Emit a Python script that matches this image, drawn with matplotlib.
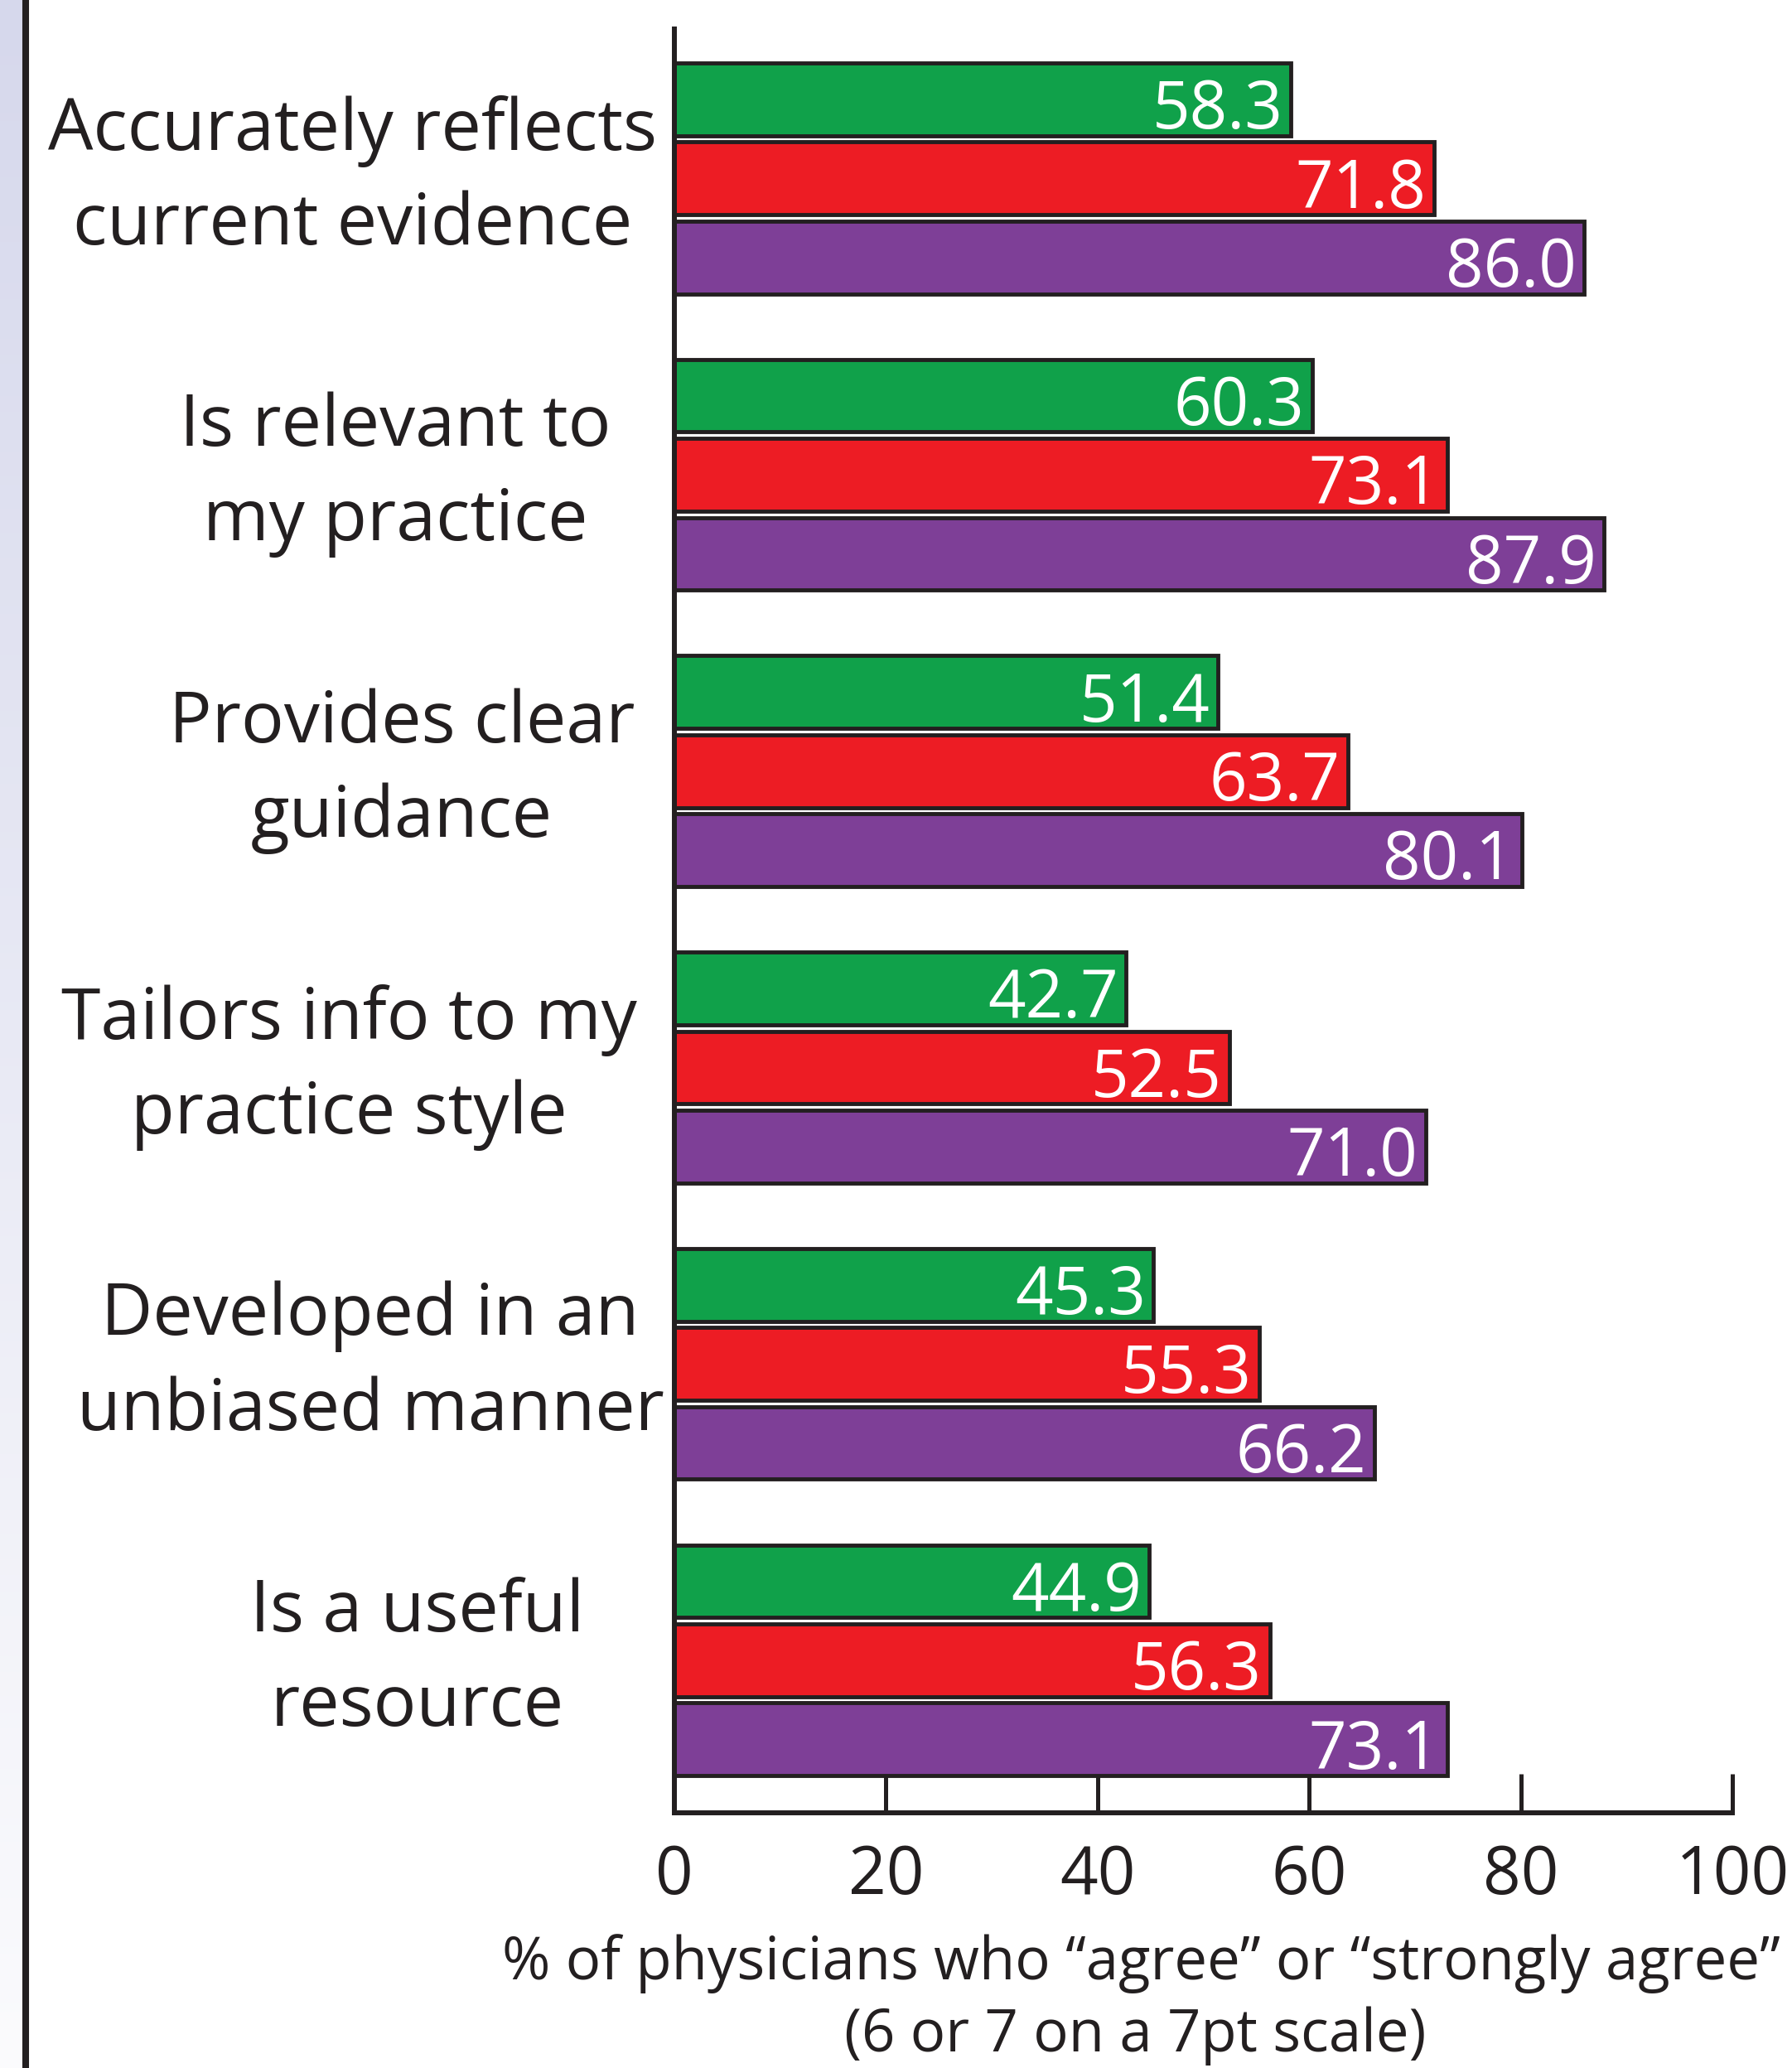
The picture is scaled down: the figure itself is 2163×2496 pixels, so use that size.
import numpy as np
import matplotlib
matplotlib.use("Agg")
import matplotlib.pyplot as plt
import matplotlib.transforms as mtransforms
from matplotlib.lines import Line2D

# data
categories = [
    "Accurately reflects\ncurrent evidence",
    "Is relevant to\nmy practice",
    "Provides clear\nguidance",
    "Tailors info to my\npractice style",
    "Developed in an\nunbiased manner",
    "Is a useful\nresource",
]
green_vals = [58.3, 60.3, 51.4, 42.7, 45.3, 44.9]
red_vals = [71.8, 73.1, 63.7, 52.5, 55.3, 56.3]
purple_vals = [86.0, 87.9, 80.1, 71.0, 66.2, 73.1]
xticks = [0, 20, 40, 60, 80, 100]
xlabel_lines = ["% of physicians who \u201cagree\u201d or \u201cstrongly agree\u201d",
                "(6 or 7 on a 7pt scale)"]

GREEN = "#10A14A"
RED = "#ED1C24"
PURPLE = "#7E3F97"
EDGE = "#231F20"
FONT = ["Open Sans", "DejaVu Sans"]

W, H = 2163, 2496
fig = plt.figure(figsize=(W / 100, H / 100), dpi=100)
fig.patch.set_facecolor("white")

# lavender strip + black rule on the left
strip = fig.add_axes([0, 0, 27 / W, 1])
grad = np.linspace(0, 1, 256).reshape(-1, 1)
c_top = np.array([0xD6, 0xD8, 0xEC]) / 255.0
c_bot = np.array([0xFB, 0xFB, 0xFD]) / 255.0
img = c_top[None, None, :] * (1 - grad[:, :, None]) + c_bot[None, None, :] * grad[:, :, None]
strip.imshow(img, aspect="auto", extent=[0, 1, 1, 0])
strip.axis("off")
fig.add_artist(Line2D([31 / W, 31 / W], [0, 1], transform=fig.transFigure,
                      color=EDGE, linewidth=5.8))

renderer = fig.canvas.get_renderer()


def fit_size(s, target_px):
    t = fig.text(0, 0, s, fontsize=100, family=FONT)
    w = t.get_window_extent(renderer).width
    t.remove()
    return 100.0 * target_px / w


cat_size = fit_size("Accurately reflects", 735)
tick_size = fit_size("100", 127) * 1.08
val_size = fit_size("86.0", 146) * 1.08
xl_size = fit_size(xlabel_lines[0], 1545)

ax = fig.add_axes([814 / W, 1 - 2188 / H, (2091 - 814) / W, (2188 - 35) / H])

pitch = 3.75
n = len(categories)
group_y = np.arange(n) * pitch
bar_h = 0.92

for k, (vals, col) in enumerate([(green_vals, GREEN), (red_vals, RED), (purple_vals, PURPLE)]):
    ys = group_y + k
    ax.barh(ys, vals, height=bar_h, color=col, edgecolor=EDGE, linewidth=3.5, zorder=2)
    for y, v in zip(ys, vals):
        ax.annotate("%.1f" % v, xy=(v, y + 0.37), xytext=(-7, 0), textcoords="offset points",
                    ha="right", va="baseline", color="white", fontsize=val_size,
                    family=FONT, zorder=3)

ax.set_xlim(0, 100)
ax.set_ylim(21.68, -0.89)
ax.spines["top"].set_visible(False)
ax.spines["right"].set_visible(False)
for sp in ["left", "bottom"]:
    ax.spines[sp].set_linewidth(4.3)
    ax.spines[sp].set_color(EDGE)
ax.set_yticks([])
ax.set_xticks(xticks)
ax.set_xticklabels([str(t) for t in xticks], family=FONT, fontsize=tick_size, color=EDGE)
ax.tick_params(axis="x", direction="in", length=34, width=3.6, color=EDGE, pad=26)

# category labels, two centred lines per group
label_x = [426, 477, 485, 421, 447, 504]
trans = mtransforms.blended_transform_factory(fig.transFigure, ax.transData)
for g, (lab, lx) in enumerate(zip(categories, label_x)):
    lines = lab.split("\n")
    yc = group_y[g] + 1
    for j, line in enumerate(lines):
        ax.text(lx / W, yc + (j - 0.5) * 1.2, line, transform=trans, ha="center",
                va="center", fontsize=cat_size, family=FONT, color=EDGE, clip_on=False)

fig.text(1377 / W, 1 - 2370 / H, xlabel_lines[0], ha="center", va="center",
         fontsize=xl_size, family=FONT, color=EDGE)
fig.text(1370 / W, 3 / H, xlabel_lines[1], ha="center", va="bottom",
         fontsize=xl_size, family=FONT, color=EDGE)

fig.savefig("out.png", dpi=100)
